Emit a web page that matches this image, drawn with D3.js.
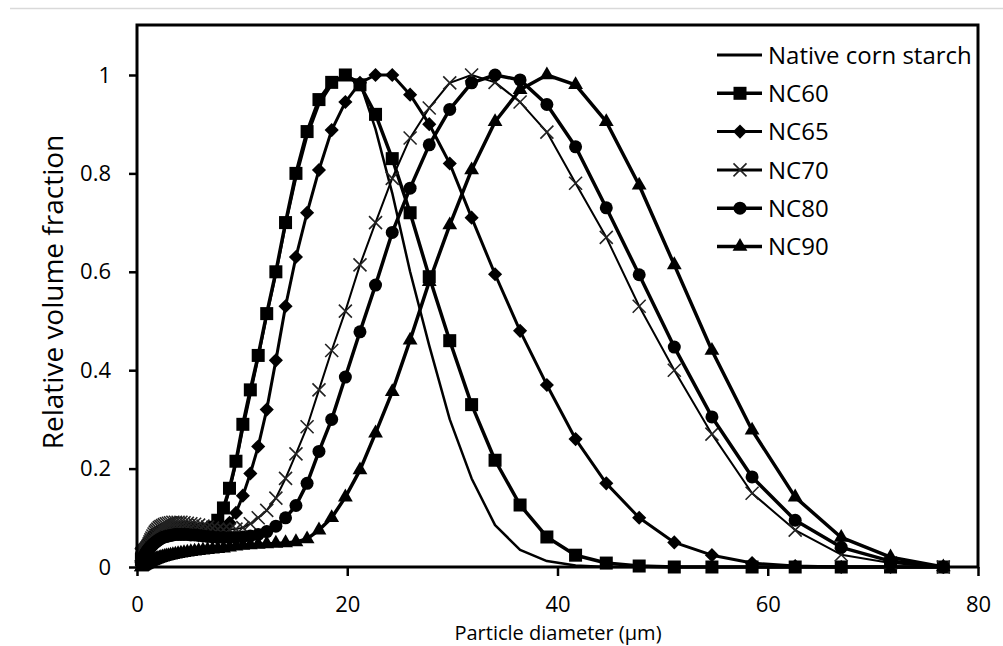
<!DOCTYPE html>
<html><head><meta charset="utf-8">
<script src="https://cdn.jsdelivr.net/npm/d3@7/dist/d3.min.js"></script>
<style>body{margin:0;background:#fff}svg{display:block}text{font-family:"Open Sans",sans-serif;fill:#000}</style>
</head><body><svg id="c" width="1003" height="646"></svg>
<script>
const diameters = [0.419,0.448,0.479,0.513,0.549,0.587,0.629,0.673,0.720,0.770,0.824,0.882,0.943,
1.009,1.080,1.156,1.237,1.323,1.416,1.515,1.621,1.735,1.856,1.986,
2.125,2.274,2.433,2.603,2.785,2.980,3.189,3.412,3.651,3.907,
4.180,4.473,4.786,5.121,5.479,5.863,6.273,6.712,7.182,7.685,
8.223,8.798,9.414,10.07,10.78,11.53,12.34,13.21,14.13,15.12,
16.18,17.31,18.52,19.82,21.21,22.69,24.28,25.98,27.80,29.75,
31.83,34.06,36.44,38.99,41.72,44.64,47.77,51.11,54.69,58.51,62.61,66.99,71.68,76.70];

const nativeCorn = [.020,.022,.024,.026,.028,.030,.031,.032,.033,.034,.035,.036,.037,
.038,.040,.042,.044,.046,.048,.051,.054,.057,.060,.062,
.064,.066,.068,.070,.072,.073,.074,.075,.076,.077,
.077,.077,.077,.076,.075,.074,.073,.073,.075,.090,
.115,.155,.210,.280,.350,.425,.510,.595,.695,.790,
.875,.940,.980,1.000,.985,.890,.760,.600,.450,.300,
.180,.085,.035,.012,.003,0,0,0,0,0,0,0,0,0];
const nc60 = [.015,.017,.019,.021,.023,.025,.027,.029,.031,.033,.035,.037,.039,
.041,.043,.045,.047,.049,.052,.055,.058,.061,.064,.066,
.068,.070,.072,.074,.076,.077,.078,.079,.080,.080,
.080,.080,.079,.078,.077,.076,.076,.077,.081,.095,
.120,.160,.215,.290,.360,.430,.515,.600,.700,.800,
.885,.950,.985,1.000,.980,.920,.830,.720,.590,.460,
.330,.217,.126,.061,.024,.008,.002,0,0,0,0,0,0,0];
const nc65 = [.010,.012,.014,.016,.018,.020,.022,.024,.026,.028,.030,.032,.034,
.036,.038,.040,.043,.046,.049,.052,.055,.058,.060,.062,
.064,.066,.068,.070,.071,.072,.073,.074,.074,.075,
.075,.075,.074,.074,.073,.072,.072,.072,.072,.074,
.080,.090,.110,.145,.190,.245,.320,.420,.530,.630,
.720,.807,.888,.945,.984,1.000,1.000,.960,.900,.820,
.710,.595,.480,.370,.260,.170,.100,.050,.024,.008,.002,0,0,0];
const nc70 = [.025,.026,.027,.028,.029,.030,.031,.032,.033,.034,.035,.036,.038,
.040,.043,.047,.051,.055,.059,.063,.067,.071,.074,.077,
.080,.082,.084,.086,.088,.089,.090,.091,.091,.091,
.091,.090,.089,.088,.087,.085,.083,.081,.079,.077,
.076,.076,.077,.080,.088,.100,.115,.140,.180,.230,
.285,.360,.440,.520,.614,.700,.790,.872,.933,.984,
1.000,.985,.945,.884,.780,.670,.530,.400,.270,.150,.075,.025,.008,0];
const nc80 = [.008,.010,.012,.014,.016,.018,.020,.022,.024,.026,.028,.030,.032,
.034,.036,.038,.040,.042,.044,.046,.048,.050,.052,.054,
.056,.058,.060,.061,.062,.063,.064,.065,.066,.066,
.066,.066,.066,.065,.065,.064,.063,.062,.061,.060,
.060,.060,.060,.061,.063,.066,.072,.083,.100,.125,
.170,.235,.300,.386,.478,.573,.680,.770,.858,.930,
.984,1.000,.990,.940,.854,.730,.594,.447,.305,.183,.095,.040,.012,0];
const nc90 = [0,0,.001,.001,.002,.002,.003,.003,.004,.004,.005,.005,.006,
.007,.008,.009,.010,.011,.012,.013,.014,.015,.016,.017,
.018,.019,.020,.021,.022,.023,.024,.025,.026,.027,
.028,.029,.030,.031,.032,.033,.034,.035,.036,.037,
.038,.040,.042,.044,.045,.046,.047,.048,.049,.051,
.057,.075,.100,.142,.197,.272,.356,.461,.580,.695,
.807,.905,.970,1.000,.980,.905,.776,.614,.440,.278,.142,.060,.020,0];

const seriesNames = ["Native corn starch","NC60","NC65","NC70","NC80","NC90"];
const seriesValues = [nativeCorn, nc60, nc65, nc70, nc80, nc90];
const seriesMarkers = ["none","square","diamond","x","circle","triangle"];
const seriesWidths = [2.5, 3.5, 3, 2, 3.5, 3.5];
const xTicks = [0,20,40,60,80];
const yTicks = [0,0.2,0.4,0.6,0.8,1];

const svg = d3.select("#c");
const L=137,R=978,T=25,B=567;
const x = d3.scaleLinear().domain([0,80]).range([L,R]);
const y = d3.scaleLinear().domain([0,1.1016]).range([B,T]);

// faint top rule
svg.append("line").attr("x1",10).attr("x2",1003).attr("y1",8.5).attr("y2",8.5).attr("stroke","#d9d9d9").attr("stroke-width",1.5);

function marker(g, type){
  if(type==="square") g.append("rect").attr("x",-6.5).attr("y",-6.5).attr("width",13).attr("height",13).attr("fill","#000");
  else if(type==="diamond") g.append("rect").attr("x",-5).attr("y",-5).attr("width",10).attr("height",10).attr("transform","rotate(45)").attr("fill","#000");
  else if(type==="circle") g.append("circle").attr("r",6.5).attr("fill","#000");
  else if(type==="triangle") g.append("path").attr("d",d3.symbol(d3.symbolTriangle,95)()).attr("fill","#000");
  else if(type==="x") g.append("path").attr("d","M-6.5,-6.5L6.5,6.5M-6.5,6.5L6.5,-6.5").attr("stroke","#222").attr("stroke-width",1.6).attr("fill","none");
}

const plot = svg.append("g");
const line = d3.line().x(d=>x(d[0])).y(d=>y(d[1]));
seriesValues.forEach((vals,i)=>{
  const pts = diameters.map((d,j)=>[d, vals[j]]);
  const g = plot.append("g");
  g.append("path").attr("d",line(pts)).attr("fill","none").attr("stroke","#000")
    .attr("stroke-width",seriesWidths[i]).attr("stroke-linejoin","round");
  if(seriesMarkers[i]!=="none"){
    pts.forEach(p=>{
      const m = g.append("g").attr("transform",`translate(${x(p[0])},${y(p[1])})`);
      marker(m, seriesMarkers[i]);
    });
  }
});

// frame
svg.append("rect").attr("x",L).attr("y",T).attr("width",R-L).attr("height",B-T)
  .attr("fill","none").attr("stroke","#000").attr("stroke-width",3);

const xa = svg.append("g").attr("transform",`translate(0,${B})`)
  .call(d3.axisBottom(x).tickValues(xTicks).tickSize(9).tickPadding(20).tickFormat(d3.format("d")));
const ya = svg.append("g").attr("transform",`translate(${L},0)`)
  .call(d3.axisLeft(y).tickValues(yTicks).tickSize(8).tickPadding(18).tickFormat(d=>d===0?"0":(d===1?"1":d3.format(".1f")(d))));
[xa,ya].forEach(a=>{
  a.select(".domain").remove();
  a.selectAll(".tick line").attr("stroke","#000").attr("stroke-width",2.5);
  a.selectAll(".tick text").attr("font-size",22).attr("font-family","Open Sans, sans-serif").attr("fill","#000");
});

svg.append("text").attr("transform","translate(53,292) rotate(-90)").attr("text-anchor","middle")
  .attr("dy","0.35em").attr("font-size",28).text("Relative volume fraction");
svg.append("text").attr("x",558).attr("y",639.5).attr("text-anchor","middle")
  .attr("font-size",20).text("Particle diameter (µm)");

// legend
const lg = svg.append("g");
seriesNames.forEach((n,i)=>{
  const yy = 55 + i*38.3;
  const g = lg.append("g").attr("transform",`translate(0,${yy})`);
  g.append("line").attr("x1",717).attr("x2",762).attr("y1",0).attr("y2",0).attr("stroke","#000").attr("stroke-width",Math.max(3,seriesWidths[i]));
  if(seriesMarkers[i]!=="none"){ const m=g.append("g").attr("transform","translate(740,0)"); marker(m,seriesMarkers[i]); }
  g.append("text").attr("x",768).attr("y",0).attr("dy","0.36em").attr("font-size",24).text(n);
});
</script></body></html>
